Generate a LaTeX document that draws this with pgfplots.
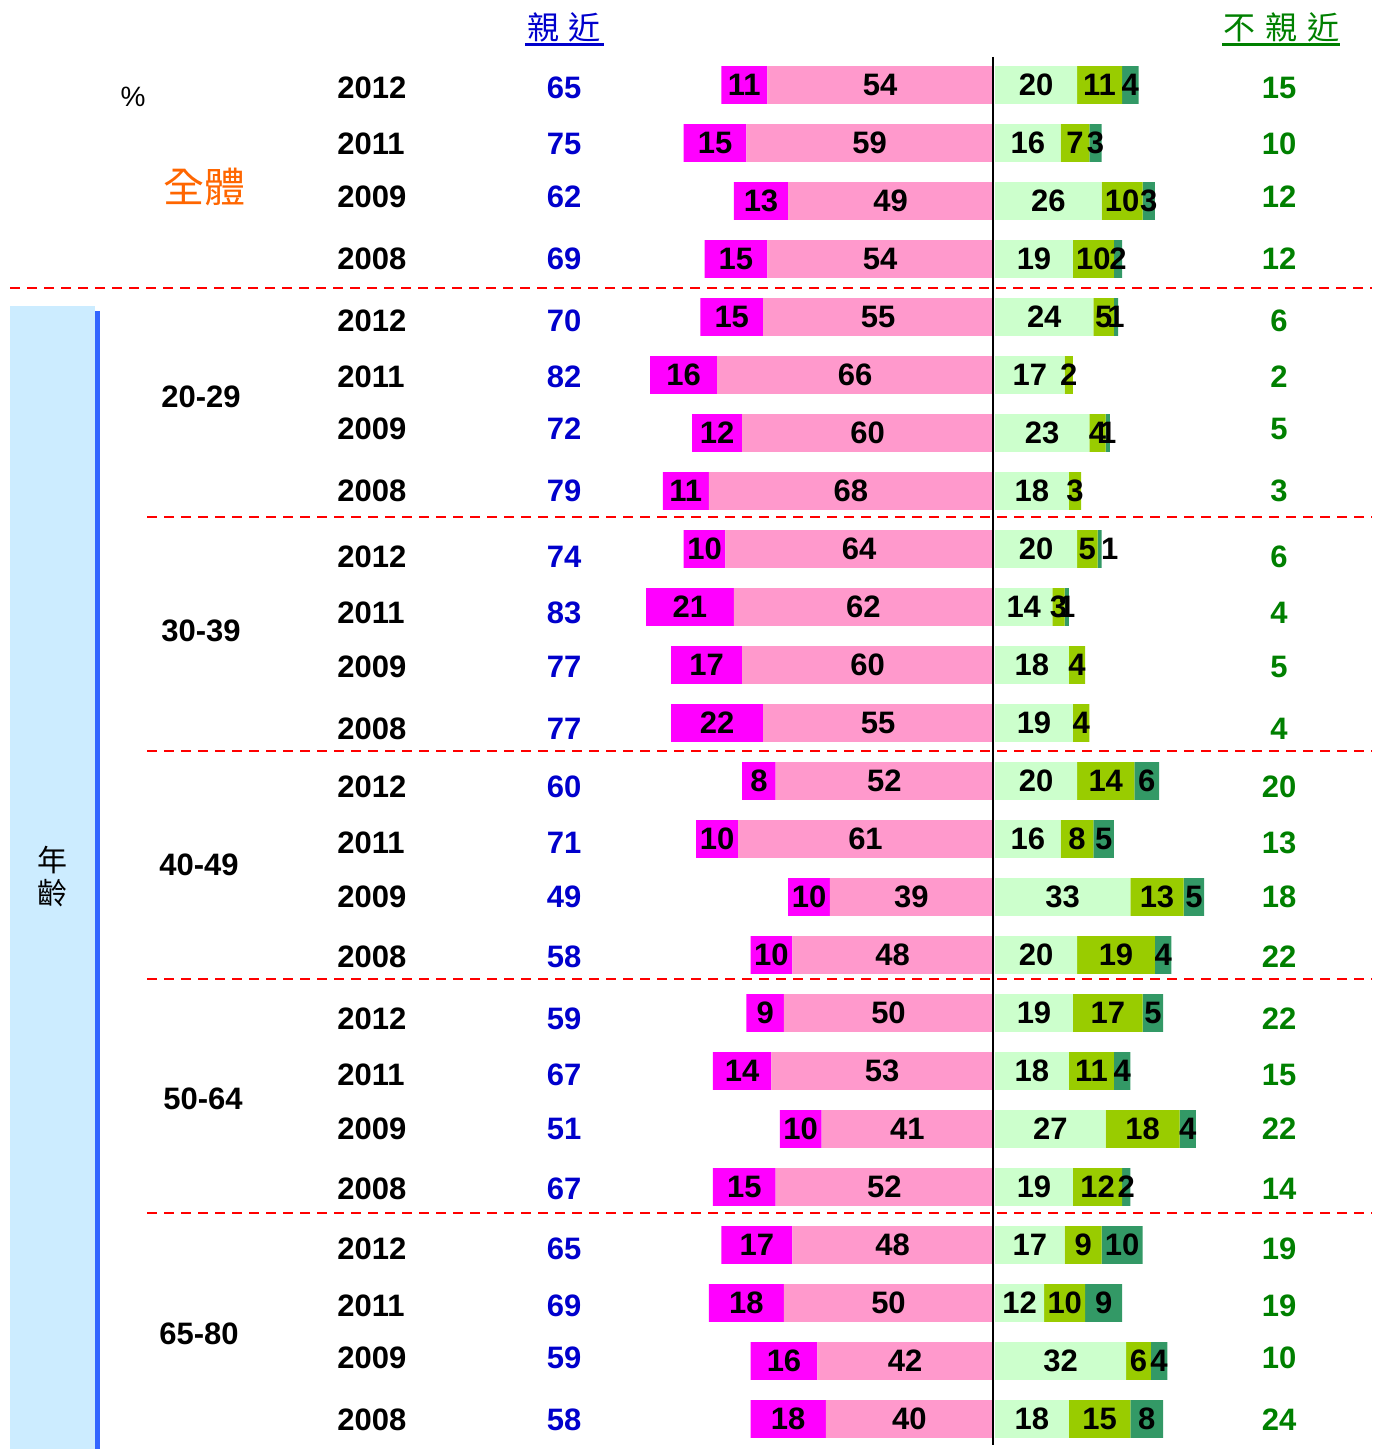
\documentclass[border=0pt]{standalone}
\usepackage{pgfplots}
\pgfplotsset{compat=1.18}
\usepackage{pgfplotstable}
\usepackage{fontspec}
\setmainfont{Liberation Sans}
\newfontfamily\cjk{Noto Sans CJK TC}
\definecolor{cmag}{HTML}{FF00FF}
\definecolor{cpink}{HTML}{FF99CC}
\definecolor{clg}{HTML}{CCFFCC}
\definecolor{cyg}{HTML}{99CC00}
\definecolor{cdg}{HTML}{339966}
\definecolor{cblue}{HTML}{0000CC}
\definecolor{cgreen}{HTML}{008000}
\definecolor{corange}{HTML}{FF6600}
\definecolor{cpanel}{HTML}{CCECFF}
\definecolor{cline}{HTML}{3366FF}
\newcommand{\lbl}{\fontsize{15.5}{18}\selectfont\bfseries}

\pgfplotstableread{
y pink mag
0 54 11
-1 59 15
-2 49 13
-3 54 15
-4 55 15
-5 66 16
-6 60 12
-7 68 11
-8 64 10
-9 62 21
-10 60 17
-11 55 22
-12 52 8
-13 61 10
-14 39 10
-15 48 10
-16 50 9
-17 53 14
-18 41 10
-19 52 15
-20 48 17
-21 50 18
-22 42 16
-23 40 18
}\lefttab

\pgfplotstableread{
y lg yg dg off
0 20 11 4 0
-1 16 7 3 0
-2 26 10 3 0
-3 19 10 2 0
-4 24 5 1 0
-5 17 2 0 0
-6 23 4 1 0
-7 18 3 0 0
-8 20 5 1 2.5
-9 14 3 1 0
-10 18 4 0 0
-11 19 4 0 0
-12 20 14 6 0
-13 16 8 5 0
-14 33 13 5 0
-15 20 19 4 0
-16 19 17 5 0
-17 18 11 4 0
-18 27 18 4 0
-19 19 12 2 0
-20 17 9 10 0
-21 12 10 9 0
-22 32 6 4 0
-23 18 15 8 0
}\righttab

\pgfplotsset{
  base/.style={
    width=689pt, height=724.5pt, scale only axis,
    at={(0,0)}, anchor=north west, hide axis, clip=false,
    ymin=-23.517, ymax=1.4655,
    xbar stacked, bar width=0.648,
    visualization depends on={rawx \as \rawx},
    nodes near coords={\pgfmathtruncatemacro{\vv}{\rawx}\ifnum\vv>0 \vv\fi},
    every node near coord/.append style={anchor=center, inner sep=0pt, font=\lbl, text=black},
  }
}

\begin{document}
\begin{tikzpicture}
\useasboundingbox (0,0) rectangle (689pt,-724.5pt);
% left panel
\begin{scope}[x=0.5pt,y=-0.5pt]
\fill[cpanel] (10,306) rectangle (95,1449);
\fill[cline] (95,311) rectangle (100,1449);
\end{scope}

\begin{axis}[base, x dir=reverse, xmin=-92.11, xmax=237.56]
\addplot[fill=cpink, draw=none] table[x=pink, y=y] {\lefttab};
\addplot[fill=cmag, draw=none] table[x=mag, y=y] {\lefttab};
\end{axis}

\begin{axis}[base, xmin=-242.68, xmax=93.41]
\addplot[fill=clg, draw=none] table[x=lg, y=y] {\righttab};
\addplot[fill=cyg, draw=none] table[x=yg, y=y] {\righttab};
\addplot[fill=cdg, draw=none,
  visualization depends on={\thisrow{off} \as \off},
  every node near coord/.append style={shift={(axis direction cs:\off,0)}}] table[x=dg, y=y] {\righttab};
\end{axis}

\begin{scope}[x=0.5pt,y=-0.5pt]
% separators
\draw[red, line width=1pt, dash pattern=on 5pt off 3.5pt] (10,288) -- (1372,288);
\foreach \yy in {517,751,979,1213}
  \draw[red, line width=1pt, dash pattern=on 5pt off 3.5pt] (147,\yy) -- (1372,\yy);
% center line
\draw[black, line width=1.1pt] (993,57) -- (993,1445);
% headers
\node[inner xsep=0pt, inner ysep=1.5pt, text=cblue, font=\cjk\fontsize{16}{18}\selectfont] (h1) at (564,27) {親\hspace{5pt}近};
\draw[cblue, line width=1.5pt] (525,45) -- (604,45);
\node[inner xsep=0pt, inner ysep=1.5pt, text=cgreen, font=\cjk\fontsize{16}{18}\selectfont] (h2) at (1281,27) {不\hspace{5pt}親\hspace{5pt}近};
\draw[cgreen, line width=1.5pt] (1222,45) -- (1340,45);
\node[font=\fontsize{14}{16}\selectfont, inner sep=0pt] at (133,97) {\%};
\node[text=corange, font=\cjk\fontsize{20.5}{22}\selectfont, inner sep=0pt] at (204,187) {全體};
\node[font=\cjk\fontsize{15}{17}\selectfont, inner sep=0pt] at (52,860) {年};
\node[font=\cjk\fontsize{15}{17}\selectfont, inner sep=0pt] at (52,893) {齡};
% age labels
\foreach \px/\py/\t in {201/397/20-29, 201/631/30-39, 199/865/40-49, 203/1099/50-64, 199/1334/65-80}
  \node[font=\lbl, inner sep=0pt] at (\px,\py) {\t};
% year and totals
\foreach \py/\yr/\tc/\tn in {88/2012/65/15, 144/2011/75/10, 197/2009/62/12, 259/2008/69/12,
  321/2012/70/6, 377/2011/82/2, 429/2009/72/5, 491/2008/79/3,
  557/2012/74/6, 613/2011/83/4, 667/2009/77/5, 729/2008/77/4,
  787/2012/60/20, 843/2011/71/13, 897/2009/49/18, 957/2008/58/22,
  1019/2012/59/22, 1075/2011/67/15, 1129/2009/51/22, 1189/2008/67/14,
  1249/2012/65/19, 1306/2011/69/19, 1358/2009/59/10, 1420/2008/58/24} {
  \node[font=\lbl, inner sep=0pt, anchor=west] at (337,\py) {\yr};
  \node[font=\lbl, inner sep=0pt, text=cblue] at (564,\py) {\tc};
  \node[font=\lbl, inner sep=0pt, text=cgreen] at (1279,\py) {\tn};
}
\end{scope}
\end{tikzpicture}
\end{document}
